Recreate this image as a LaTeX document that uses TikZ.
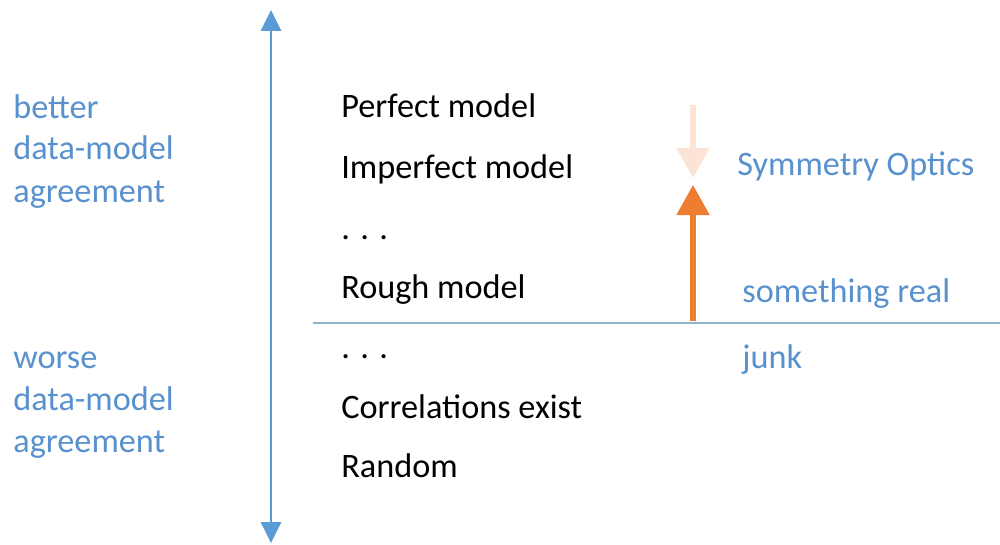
\documentclass[tikz,border=0pt]{standalone}
\usepackage{fontspec}
\setmainfont{Carlito}
\usetikzlibrary{positioning,arrows.meta}
\definecolor{axisblue}{RGB}{91,155,213}
\definecolor{labelblue}{RGB}{88,145,205}
\definecolor{realorange}{RGB}{237,125,49}
\definecolor{paleorange}{RGB}{251,228,213}
\definecolor{cutgray}{RGB}{142,180,203}
\tikzset{
level/.style={anchor=base west,inner sep=0pt,font=\fontsize{19.5}{23.9}\selectfont,text=black},
side/.style={anchor=base west,inner sep=0pt,font=\fontsize{19.5}{23.9}\selectfont,text=labelblue,align=left},
axisarrow/.style={{Triangle[width=4mm,length=4.2mm]}-{Triangle[width=4mm,length=4.2mm]},line width=1.7pt,axisblue},
realarrow/.style={-{Triangle[width=6.4mm,length=6mm]},line width=3pt,realorange},
fadearrow/.style={-{Triangle[width=6.4mm,length=6mm]},line width=3pt,paleorange},
cutline/.style={line width=0.8pt,cutgray}
}

\begin{document}
\begin{tikzpicture}[x=0.2mm,y=-0.2mm]
\useasboundingbox (0,0) rectangle (1000,545);
% model levels
\node[level] (perfect) at (341,118) {Perfect model};
\node[level] (imperfect) at (341,178) {Imperfect model};
\node[level] (dotsA) at (341,239) {. . .};
\node[level] (rough) at (341,298) {Rough model};
\node[level] (dotsB) at (341,358) {. . .};
\node[level] (corr) at (341,418) {Correlations exist};
\node[level] (random) at (341,477) {Random};
% side labels (anchored at last line)
\node[side] (better) at (13,202) {better\\data-model\\agreement};
\node[side] (worse) at (13,452) {worse\\data-model\\agreement};
\node[side] (symopt) at (737,175) {Symmetry Optics};
\node[side] (real) at (742,302) {something real};
\node[side] (junk) at (742,368) {junk};
% arrows and cut
\coordinate (axtop) at (271,10);
\coordinate (axbot) at (271,543);
\coordinate (cutL) at (313,323);
\coordinate (cutR) at (1000,323);
\coordinate (realbase) at (693,321);
\coordinate (realtip) at (693,185);
\coordinate (fadetop) at (693,105);
\coordinate (fadetip) at (693,178);
\draw[axisarrow] (axbot) -- (axtop);
\draw[cutline] (cutL) -- (cutR);
\draw[fadearrow] (fadetop) -- (fadetip);
\draw[realarrow] (realbase) -- (realtip);
\end{tikzpicture}
\end{document}
